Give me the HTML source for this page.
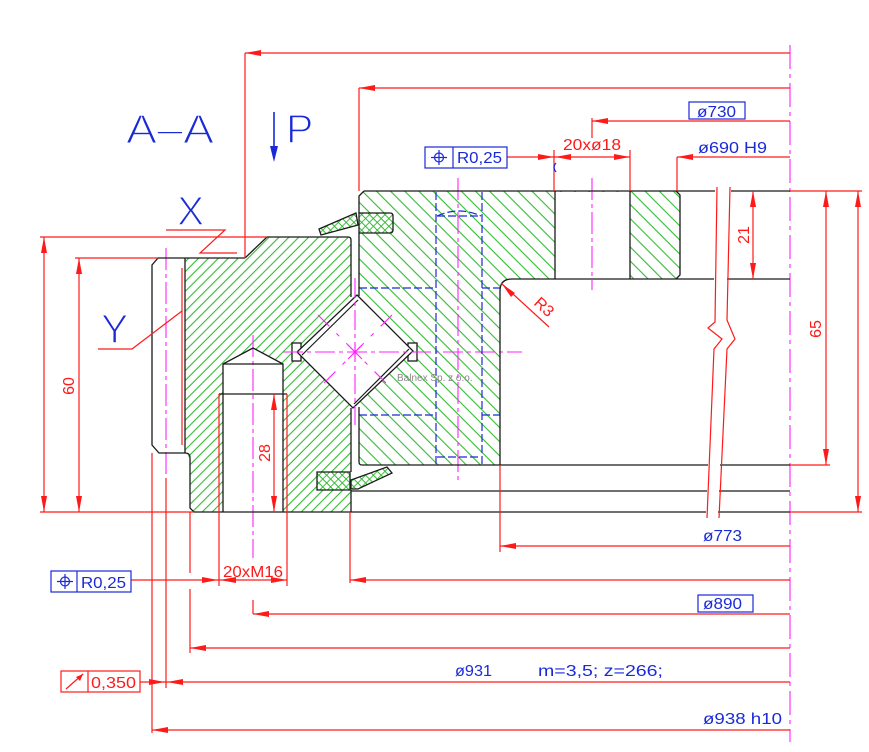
<!DOCTYPE html>
<html><head><meta charset="utf-8">
<style>
html,body{margin:0;padding:0;background:#fff;}
svg{display:block;}
text{font-family:"Liberation Sans",sans-serif;}
</style></head><body>
<svg width="869" height="752" viewBox="0 0 869 752" xmlns="http://www.w3.org/2000/svg">
<defs>
<pattern id="hA" patternUnits="userSpaceOnUse" width="7" height="7" patternTransform="rotate(45)">
<line x1="1" y1="0" x2="1" y2="7" stroke="#33bb33" stroke-width="1.1"/>
</pattern>
<pattern id="hB" patternUnits="userSpaceOnUse" width="10" height="10" patternTransform="rotate(-45)">
<line x1="1" y1="0" x2="1" y2="10" stroke="#33bb33" stroke-width="1.1"/>
</pattern>
<pattern id="hX" patternUnits="userSpaceOnUse" width="5.5" height="5.5" patternTransform="rotate(45)">
<path d="M0.5 0V5.5M0 0.5H5.5" stroke="#33bb33" stroke-width="0.9"/>
</pattern>
</defs>
<rect width="869" height="752" fill="#fff"/>

<!-- hatching -->
<polygon points="185,258 245,258 267,237 351,237 351,512 194,512 190,508 190,458 185,453" fill="url(#hA)"/>
<path d="M359,196 L364,191 L676,191 L680,195 L680,275 L676,279 L512,279 Q500,279 500,291 L500,465 L362,465 L359,462 Z" fill="url(#hB)"/>

<!-- white overlays -->
<path d="M223,364 L253,348 L283,364 L283,512 L223,512 Z" fill="#fff"/>
<rect x="555" y="192" width="75" height="87" fill="#fff"/>
<rect x="351.5" y="237" width="7" height="275" fill="#fff"/>
<rect x="359" y="213" width="34" height="20" fill="#fff"/>
<rect x="317" y="472" width="34" height="18" fill="#fff"/>

<!-- roller side blocks and diamond -->
<g stroke="#1a1a1a" stroke-width="1.3" fill="#fff">
<rect x="292" y="343" width="9" height="18"/>
<rect x="408" y="343" width="9" height="18"/>
<polygon points="357,295 413,351 353,408 297,352"/>
</g>
<g stroke="#1a1a1a" stroke-width="1.2" fill="none">
<line x1="302" y1="355" x2="358" y2="300"/>
<line x1="409" y1="349" x2="354" y2="404"/>
</g>

<!-- magenta center lines -->
<g stroke="#ff22ff" stroke-width="1.1" fill="none">
<line x1="283" y1="352" x2="522" y2="352" stroke-dasharray="20 4 4 4"/>
<line x1="355" y1="278" x2="355" y2="425" stroke-dasharray="20 4 4 4"/>
<line x1="318" y1="315" x2="392" y2="389" stroke-dasharray="16 10 4 10"/>
<line x1="392" y1="315" x2="318" y2="389" stroke-dasharray="16 10 4 10"/>
<path d="M348,345 L362,359 M362,345 L348,359 M355,344 V360 M347,352 H363"/>
<line x1="458" y1="178" x2="458" y2="482" stroke-dasharray="22 4 4 4"/>
<line x1="592" y1="178" x2="592" y2="290" stroke-dasharray="22 4 4 4"/>
<line x1="166" y1="248" x2="166" y2="478" stroke-dasharray="22 4 4 4"/>
<line x1="253" y1="335" x2="253" y2="558" stroke-dasharray="22 4 4 4"/>
<line x1="790" y1="45" x2="790" y2="742" stroke-dasharray="24 5 4 5"/>
</g>

<!-- seals -->
<g stroke="#1a1a1a" stroke-width="1.3" fill="url(#hX)">
<path d="M359,213 L390,213 Q393,213 393,216 L393,230 Q393,233 390,233 L359,233 Z"/>
<polygon points="356,213 319,229 321,235 358,225"/>
<path d="M317,472 L350,472 L350,490 L317,490 Z"/>
<polygon points="351,480 387,467 392,473 358,489 351,489"/>
</g>

<!-- blue hidden lines -->
<g stroke="#1a2ad8" stroke-width="1.2" fill="none" stroke-dasharray="8 3">
<line x1="436" y1="192" x2="436" y2="465"/>
<line x1="482" y1="192" x2="482" y2="465"/>
<path d="M437,216 Q459,206 481,216"/>
<line x1="437" y1="216" x2="481" y2="216"/>
<line x1="437" y1="457" x2="481" y2="457"/>
<line x1="359" y1="288" x2="436" y2="288"/>
<line x1="482" y1="288" x2="500" y2="288"/>
<line x1="359" y1="415" x2="436" y2="415"/>
<line x1="482" y1="415" x2="500" y2="415"/>
</g>

<!-- black outlines -->
<g stroke="#1a1a1a" stroke-width="1.3" fill="none">
<path d="M245,258 L267,237 L348,237 Q351,237 351,240 L351,297"/>
<path d="M158,258 L245,258"/>
<path d="M158,258 L152,265 L152,445 L159,453 L185,453 Q190,453 190,458 L190,508 L194,512"/>
<path d="M185,258 L185,453"/>
<path d="M351,408 L351,472 M351,490 L351,512"/>
<path d="M359,213 L359,196 L364,191 M359,233 L359,296 M359,407 L359,462 Q359,465 362,465"/>
<path d="M364,191 H715 M731,191 H790"/>
<path d="M555,191 V279 M630,191 V279"/>
<path d="M676,191 L680,195 L680,275 L676,279"/>
<path d="M512,279 H714 M727,279 H790"/>
<path d="M512,279 Q500,279 500,291 L500,465"/>
<path d="M362,465 H708 M720,465 H790"/>
<path d="M351,491 H707 M719,491 H790"/>
<path d="M194,512 H706 M718,512 H790"/>
<path d="M223,512 L223,364 L253,348 L283,364 L283,512 M223,364 H283 M219,394 H287"/>
</g>

<!-- red dimension lines -->
<g stroke="#ff1a1a" stroke-width="1.2" fill="none">
<path d="M245,53 V258 M245,53 H790"/>
<path d="M359,88 V191 M359,88 H790"/>
<path d="M592,121 H790 M592,118 V138"/>
<path d="M507,157 H630 M554,150 V191 M630,150 V191"/>
<path d="M677,157 H790 M677,157 V191"/>
<path d="M717,187 L715,322 L708,328 L722,339 L714,349 L707,518"/>
<path d="M730,187 L727,320 L735,339 L727,349 L719,518"/>
<path d="M790,191 H862 M790,465 H830 M790,512 H862"/>
<path d="M753,191 V279 M826,191 V465 M858,191 V512"/>
<path d="M40,237 H267 M75,258 H158 M40,512 H194"/>
<path d="M44,237 V512 M79,258 V512"/>
<path d="M274,394 V512"/>
<path d="M219,394 V586 M287,394 V586"/>
<path d="M182,268 V445"/>
<path d="M166,478 V688 M152,453 V733"/>
<path d="M190,512 V573 M190,589 V653"/>
<path d="M350,512 V583 M500,465 V552 M253,600 V614"/>
<path d="M500,546 H790"/>
<path d="M131,580 H287 M350,580 H790"/>
<path d="M253,614 H790"/>
<path d="M190,648 H790"/>
<path d="M140,682 H790"/>
<path d="M152,730 H790"/>
<path d="M166,230 H225 L200,253 H237"/>
<path d="M98,349 H132 L182,311"/>
<path d="M501,283 L549,327"/>
</g>

<!-- arrowheads -->
<g fill="#ff1a1a">
<polygon points="245,53 261,50 261,56"/>
<polygon points="359,88 375,85 375,91"/>
<polygon points="592,121 608,118 608,124"/>
<polygon points="554,157 538,154 538,160"/>
<polygon points="555,157 571,154 571,160"/>
<polygon points="630,157 614,154 614,160"/>
<polygon points="677,157 693,154 693,160"/>
<polygon points="753,191 750,207 756,207"/>
<polygon points="753,279 750,263 756,263"/>
<polygon points="826,191 823,207 829,207"/>
<polygon points="826,465 823,449 829,449"/>
<polygon points="858,191 855,207 861,207"/>
<polygon points="858,512 855,496 861,496"/>
<polygon points="44,237 41,253 47,253"/>
<polygon points="44,512 41,496 47,496"/>
<polygon points="79,258 76,274 82,274"/>
<polygon points="79,512 76,496 82,496"/>
<polygon points="274,394 271,410 277,410"/>
<polygon points="274,512 271,496 277,496"/>
<polygon points="500,546 516,543 516,549"/>
<polygon points="218,580 202,577 202,583"/>
<polygon points="220,580 236,577 236,583"/>
<polygon points="287,580 271,577 271,583"/>
<polygon points="350,580 366,577 366,583"/>
<polygon points="253,614 269,611 269,617"/>
<polygon points="190,648 206,645 206,651"/>
<polygon points="165,682 149,679 149,685"/>
<polygon points="167,682 183,679 183,685"/>
<polygon points="152,730 168,727 168,733"/>
<polygon points="502,284 515,293 511,297"/>
</g>

<!-- boxes -->
<g fill="none" stroke="#1a2ad8" stroke-width="1.2">
<rect x="425" y="147" width="82" height="21"/>
<line x1="453" y1="147" x2="453" y2="168"/>
<circle cx="439" cy="157.5" r="4.5"/>
<path d="M431,157.5 H447 M439,150 V165"/>
<rect x="51" y="571" width="80" height="21"/>
<line x1="77" y1="571" x2="77" y2="592"/>
<circle cx="65" cy="581.5" r="4.5"/>
<path d="M57,581.5 H73 M65,574 V589"/>
<rect x="689" y="102" width="56" height="17"/>
<rect x="698" y="595" width="55" height="17"/>
<path d="M556,163 Q552,167 556,172"/>
</g>
<g fill="none" stroke="#ff1a1a" stroke-width="1.2">
<rect x="61" y="671" width="79" height="21"/>
<line x1="88" y1="671" x2="88" y2="692"/>
<path d="M66,689 L83,674"/>
</g>
<polygon points="83,674 76,677 80,681" fill="#ff1a1a"/>

<!-- blue text -->
<g fill="#1a2ad8" stroke="#fff" stroke-width="1.4">
<text x="126" y="143" font-size="41" textLength="88" lengthAdjust="spacingAndGlyphs">A–A</text>
<text x="286" y="143" font-size="41">P</text>
<text x="177" y="225" font-size="41">X</text>
<text x="101" y="343" font-size="41">Y</text>
</g>
<g fill="#1a2ad8">
<text x="697" y="117" font-size="16" textLength="39" lengthAdjust="spacingAndGlyphs">ø730</text>
<text x="457" y="163" font-size="16" textLength="45" lengthAdjust="spacingAndGlyphs">R0,25</text>
<text x="698" y="153" font-size="16" textLength="69" lengthAdjust="spacingAndGlyphs">ø690  H9</text>
<text x="703" y="541" font-size="16" textLength="39" lengthAdjust="spacingAndGlyphs">ø773</text>
<text x="81" y="588" font-size="16" textLength="45" lengthAdjust="spacingAndGlyphs">R0,25</text>
<text x="703" y="609" font-size="16" textLength="39" lengthAdjust="spacingAndGlyphs">ø890</text>
<text x="455" y="676" font-size="16" textLength="37" lengthAdjust="spacingAndGlyphs">ø931</text>
<text x="538" y="676" font-size="16" textLength="125" lengthAdjust="spacingAndGlyphs">m=3,5;  z=266;</text>
<text x="703" y="724" font-size="16" textLength="79" lengthAdjust="spacingAndGlyphs">ø938  h10</text>
</g>
<polygon points="274,162 270,146 278,146" fill="#1a2ad8"/>
<line x1="274" y1="112" x2="274" y2="150" stroke="#1a2ad8" stroke-width="1.6"/>

<!-- red text -->
<g fill="#ff1a1a">
<text x="563" y="150" font-size="16" textLength="58" lengthAdjust="spacingAndGlyphs">20xø18</text>
<text x="223" y="577" font-size="16" textLength="60" lengthAdjust="spacingAndGlyphs">20xM16</text>
<text x="91" y="688" font-size="16" textLength="45" lengthAdjust="spacingAndGlyphs">0,350</text>
<text transform="translate(74,386) rotate(-90)" font-size="16" text-anchor="middle">60</text>
<text transform="translate(270,453) rotate(-90)" font-size="16" text-anchor="middle">28</text>
<text transform="translate(749,235) rotate(-90)" font-size="16" text-anchor="middle">21</text>
<text transform="translate(821,329) rotate(-90)" font-size="16" text-anchor="middle">65</text>
<text transform="translate(533,304) rotate(42.5)" font-size="16">R3</text>
</g>
<text x="397" y="381" font-size="10" fill="#888">Balnex Sp. z o.o.</text>
</svg>
</body></html>
